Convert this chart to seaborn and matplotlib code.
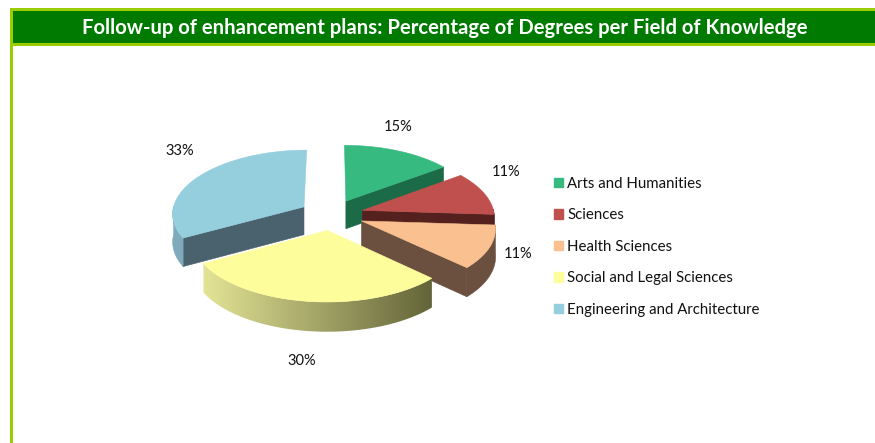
import numpy as np
import pandas as pd
import matplotlib
matplotlib.use("Agg")
import matplotlib.pyplot as plt
import seaborn as sns
from matplotlib.patches import Rectangle, Patch, Polygon
from matplotlib.colors import LinearSegmentedColormap

# Data
fields = ["Arts and Humanities", "Sciences", "Health Sciences", "Social and Legal Sciences", "Engineering and Architecture"]
percentages = [15, 11, 11, 30, 33]
title = "Follow-up of enhancement plans: Percentage of Degrees per Field of Knowledge"

sns.set_theme(style="white")
plt.rcParams["font.family"] = ["Lato", "DejaVu Sans"]

top_colors = sns.color_palette(["#37BA80", "#C0504D", "#FAC090", "#FDFD9C", "#95CEDD"])
wall_colors = ["#1C6B48", "#55211F", "#6B5040", "#8E8E58", "#49626D"]
rim_colors = ["#1C6B48", "#55211F", "#6B5040", None, "#7FAABB"]
rim_shade = LinearSegmentedColormap.from_list("rim", ["#E4E496", "#636539"])

df = pd.DataFrame({"field": fields, "pct": percentages})
df["sweep"] = df["pct"] / df["pct"].sum() * 360
df["start"] = 90 - df["sweep"].cumsum().shift(fill_value=0)
df["end"] = df["start"] - df["sweep"]

# Look of the tilted pie, in pixels
CX, CY = 331.5, 214.7
R, A, B = 132, 63.5, 5.4
TAPER = 0.096
EXPLODE = 0.245
DEPTH = 28


def project(x, y, drop=0.0):  # flat pie coordinates to the screen
    sx = CX + R * x * (1 - TAPER * y)
    sy = CY - A * y + B * y ** 2 + drop * DEPTH * (1 - 0.05 * y)
    return sx, sy


fig, ax = plt.subplots(figsize=(8.75, 4.43), dpi=100)
fig.subplots_adjust(0, 0, 1, 1)

# Frame and heading
border = "#9ACD00"
ax.add_patch(Rectangle((10, 8), 865, 37.5, color=border, lw=0))
ax.add_patch(Rectangle((10, 8), 3, 435, color=border, lw=0))
ax.add_patch(Rectangle((13, 11), 862, 32, color="#007A00", lw=0))
ax.text(444.5, 28, title, color="white", fontsize=14.55, fontweight="bold", ha="center", va="center")

# Back slices first, so that the front ones cover them
for order, i in enumerate([4, 0, 1, 2, 3]):
    row = df.iloc[i]
    z = 2 + order
    mid = np.radians((row["start"] + row["end"]) / 2)
    ox, oy = EXPLODE * np.cos(mid), EXPLODE * np.sin(mid)
    t = np.radians(np.linspace(row["start"], row["end"], 120))
    ex, ey = ox + np.cos(t), oy + np.sin(t)

    # straight cut walls
    for a, is_start in ((t[0], True), (t[-1], False)):
        if (np.cos(a) < 0) == is_start:
            wx = np.array([ox, ox + np.cos(a)])
            wy = np.array([oy, oy + np.sin(a)])
            x1, y1 = project(wx, wy)
            x2, y2 = project(wx, wy, 1)
            ax.fill([x1[0], x1[1], x2[1], x2[0]], [y1[0], y1[1], y2[1], y2[0]], color=wall_colors[i], lw=0.4, zorder=z)

    # outer rim, yellow slice gets a shaded one
    front = np.sin(t) < 0.02
    x1, y1 = project(ex[front], ey[front])
    x2, y2 = project(ex[front], ey[front], 1)
    rim_x, rim_y = np.r_[x1, x2[::-1]], np.r_[y1, y2[::-1]]
    if len(x1) > 1:
        if rim_colors[i] is None:
            shade = ax.imshow(np.linspace(0, 1, 256)[None, :], cmap=rim_shade, aspect="auto", zorder=z,
                              extent=(rim_x.min(), rim_x.max(), rim_y.max(), rim_y.min()))
            shade.set_clip_path(Polygon(np.c_[rim_x, rim_y], transform=ax.transData))
        else:
            ax.fill(rim_x, rim_y, color=rim_colors[i], lw=0.4, zorder=z)

    # top face
    tx, ty = project(np.r_[ox, ex], np.r_[oy, ey])
    ax.fill(tx, ty, color=top_colors[i], lw=0.4, zorder=z + 0.5)

ax.set_xlim(0, 875)
ax.set_ylim(443, 0)
ax.axis("off")

# Percent labels
label_xy = [(398, 127), (506, 172), (518, 254), (302, 361), (180, 151)]
for (lx, ly), v in zip(label_xy, percentages):
    ax.text(lx, ly, f"{v}%", fontsize=10.5, color="#111111", ha="center", va="center", zorder=10)

handles = [Patch(color=c, label=f) for c, f in zip(top_colors, fields)]
ax.legend(handles=handles, loc="upper left", bbox_to_anchor=(554, 177), bbox_transform=ax.transData,
          frameon=False, fontsize=10.8, handlelength=0.6, handleheight=0.6,
          handletextpad=0.28, labelspacing=1.16, borderpad=0, borderaxespad=0, labelcolor="#111111")

plt.savefig("out.png", dpi=100)
